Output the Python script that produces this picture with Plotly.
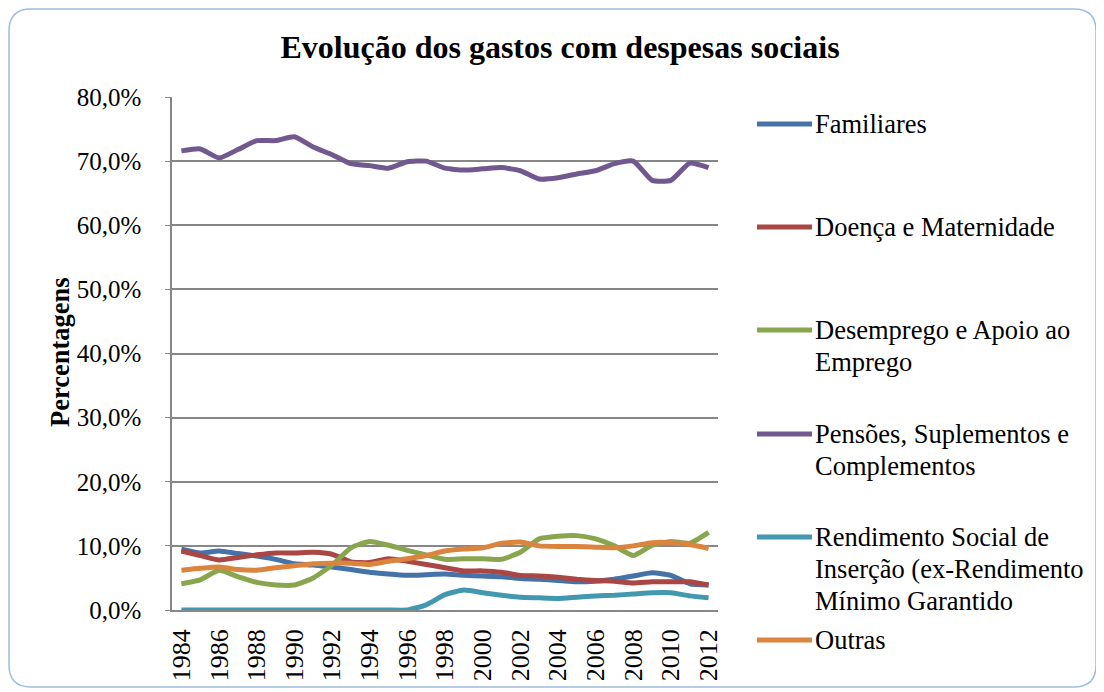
import plotly.graph_objects as go

years = list(range(1984, 2013))

familiares = [9.5, 8.9, 9.2, 8.8, 8.4, 7.9, 7.2, 7.0, 6.7, 6.3, 5.9, 5.6, 5.4, 5.5, 5.6,
              5.4, 5.3, 5.2, 4.9, 4.8, 4.6, 4.4, 4.5, 4.8, 5.3, 5.8, 5.4, 4.1, 3.9]
doenca = [9.2, 8.5, 7.8, 8.2, 8.6, 8.9, 8.9, 9.0, 8.7, 7.5, 7.4, 8.0, 7.6, 7.1, 6.6,
          6.1, 6.1, 5.9, 5.4, 5.3, 5.1, 4.8, 4.6, 4.5, 4.2, 4.4, 4.4, 4.4, 3.9]
desemprego = [4.1, 4.7, 6.2, 5.2, 4.3, 3.9, 3.9, 5.0, 7.0, 9.7, 10.7, 10.1, 9.3, 8.6, 7.9,
              8.0, 8.0, 7.9, 9.0, 11.1, 11.5, 11.6, 11.1, 10.0, 8.5, 10.1, 10.7, 10.4, 12.1]
pensoes = [71.6, 71.9, 70.5, 71.8, 73.2, 73.2, 73.8, 72.2, 71.0, 69.6, 69.3, 68.9, 69.9, 70.0, 68.9,
           68.6, 68.8, 69.0, 68.5, 67.2, 67.4, 68.0, 68.5, 69.6, 70.0, 67.0, 67.0, 69.7, 69.0]
rsi = [0.0, 0.0, 0.0, 0.0, 0.0, 0.0, 0.0, 0.0, 0.0, 0.0, 0.0, 0.0, 0.0, 0.8, 2.4,
       3.1, 2.7, 2.3, 2.0, 1.9, 1.8, 2.0, 2.2, 2.3, 2.5, 2.7, 2.7, 2.2, 1.9]
outras = [6.2, 6.5, 6.7, 6.3, 6.2, 6.6, 6.9, 7.2, 7.3, 7.3, 7.1, 7.6, 8.0, 8.5, 9.2,
          9.5, 9.7, 10.4, 10.6, 10.0, 9.9, 9.9, 9.8, 9.7, 10.0, 10.5, 10.5, 10.2, 9.6]

series_names = ["Familiares", "Doença e Maternidade", "Desemprego e Apoio ao Emprego",
                "Pensões, Suplementos e Complementos",
                "Rendimento Social de Inserção (ex-Rendimento Mínimo Garantido",
                "Outras"]
legend_lines = [["Familiares"],
                ["Doença e Maternidade"],
                ["Desemprego e Apoio ao", "Emprego"],
                ["Pensões, Suplementos e", "Complementos"],
                ["Rendimento Social de", "Inserção (ex-Rendimento", "Mínimo Garantido"],
                ["Outras"]]
series_values = [familiares, doenca, desemprego, pensoes, rsi, outras]
colors = ["#4572A7", "#AA4643", "#89A54E", "#71588F", "#4198AF", "#DB843D"]

y_ticks = [0, 10, 20, 30, 40, 50, 60, 70, 80]
y_ticktext = ["0,0%", "10,0%", "20,0%", "30,0%", "40,0%", "50,0%", "60,0%", "70,0%", "80,0%"]
x_ticks = list(range(1984, 2013, 2))

title_text = "Evolução dos gastos com despesas sociais"
y_title = "Percentagens"

FONT = "Liberation Serif"
OFF = 8                      # page body margin
W, H = 1104 - OFF, 692 - OFF
# plot area in screen pixels
PL, PR, PT, PB = 172, 718, 97, 610


def px(x):
    return (x - PL) / (PR - PL)


def py(y):
    return (PB - y) / (PB - PT)


fig = go.Figure()
for name, vals, col in zip(series_names, series_values, colors):
    fig.add_trace(go.Scatter(
        x=years, y=vals, name=name, mode="lines",
        line=dict(color=col, width=5, shape="spline", smoothing=0.5),
        showlegend=False,
    ))

# Manual legend (Excel-like: evenly spaced first lines)
legend_first_line = [124, 227, 330, 434, 537, 640]
LINE_GAP = 32
annotations = []
shapes = []
for lines, col, yc in zip(legend_lines, colors, legend_first_line):
    shapes.append(dict(type="line", xref="paper", yref="paper",
                       x0=px(757), x1=px(812), y0=py(yc), y1=py(yc),
                       line=dict(color=col, width=5)))
    for k, txt in enumerate(lines):
        annotations.append(dict(text=txt, xref="paper", yref="paper",
                                x=px(813), y=py(yc + k * LINE_GAP), xanchor="left",
                                yanchor="middle", align="left", showarrow=False,
                                font=dict(family=FONT, size=26.5, color="black")))

# y-axis title
annotations.append(dict(text="<b>" + y_title + "</b>", xref="paper", yref="paper",
                        x=px(60), y=py(352), xanchor="center", yanchor="middle",
                        textangle=-90, showarrow=False,
                        font=dict(family=FONT, size=26.5, color="black")))

# rounded border
x0, y0, x1, y1, r = 9, 9, 1096, 687, 22
pts = [
    ("M", x0 + r, y0), ("L", x1 - r, y0), ("Q", x1, y0, x1, y0 + r),
    ("L", x1, y1 - r), ("Q", x1, y1, x1 - r, y1), ("L", x0 + r, y1),
    ("Q", x0, y1, x0, y1 - r), ("L", x0, y0 + r), ("Q", x0, y0, x0 + r, y0),
]
path = ""
for p in pts:
    cmd = p[0]
    coords = p[1:]
    s = []
    for i in range(0, len(coords), 2):
        s.append(f"{px(coords[i]):.5f},{py(coords[i+1]):.5f}")
    path += cmd + " ".join(s) + " "
path += "Z"
shapes.append(dict(type="path", xref="paper", yref="paper", path=path,
                   line=dict(color="#9DBCE0", width=1.5), layer="below"))

fig.update_layout(
    width=W, height=H,
    margin=dict(l=PL - OFF, r=1104 - PR, t=PT - OFF, b=692 - PB, pad=0),
    paper_bgcolor="white", plot_bgcolor="white",
    font=dict(family=FONT, size=25, color="black"),
    title=dict(text="<b>" + title_text + "</b>", xref="container", yref="container",
               x=(560 - OFF) / W, y=1 - (47 - OFF) / H, xanchor="center", yanchor="middle",
               font=dict(family=FONT, size=32, color="black")),
    xaxis=dict(range=[1983.5, 2012.5], tickmode="array", tickvals=x_ticks,
               ticktext=[str(v) for v in x_ticks], tickangle=-90,
               showgrid=False, zeroline=False, showline=True,
               linecolor="#878787", linewidth=1.5, ticks="",
               ticklabelstandoff=7, tickfont=dict(family=FONT, size=26)),
    yaxis=dict(range=[0, 80], tickmode="array", tickvals=y_ticks, ticktext=y_ticktext,
               showgrid=True, gridcolor="#878787", gridwidth=1.5,
               zeroline=False, showline=True, linecolor="#878787", linewidth=1.5,
               ticks="outside", ticklen=5, tickcolor="#878787",
               ticklabelstandoff=19, tickfont=dict(family=FONT, size=25)),
    shapes=shapes,
    annotations=annotations,
)

fig.write_html("out.html")
